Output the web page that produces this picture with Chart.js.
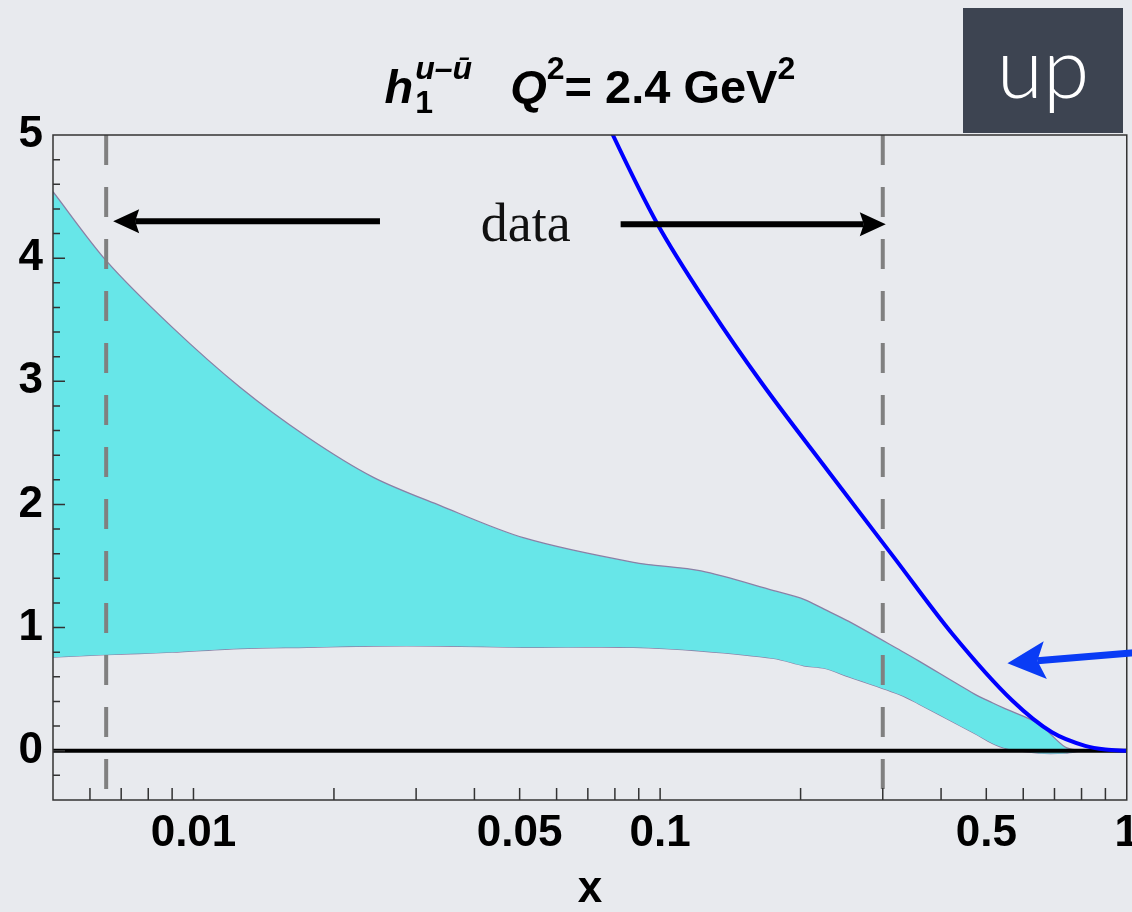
<!DOCTYPE html>
<html>
<head>
<meta charset="utf-8">
<script src="https://cdn.jsdelivr.net/npm/chart.js@4.4.1/dist/chart.umd.min.js"></script>
<style>
  html, body { margin: 0; padding: 0; width: 1132px; height: 912px; overflow: hidden; background: #e8eaee; }
  #wrap { position: relative; width: 1146px; height: 912px; }
</style>
</head>
<body>
<div id="wrap"><canvas id="chart"></canvas></div>
<script>
// ===== DATA =====
const bandX     = [0.005, 0.0065, 0.009, 0.0126, 0.0175, 0.0243, 0.0338, 0.0509, 0.0877, 0.1224, 0.1752, 0.2033, 0.2246, 0.2537, 0.3289, 0.358, 0.472, 0.515, 0.55, 0.647, 0.738, 0.8];
const bandUpper = [4.54, 3.98, 3.44, 2.95, 2.55, 2.22, 1.99, 1.73, 1.53, 1.46, 1.30, 1.23, 1.15, 1.05, 0.81, 0.73, 0.46, 0.39, 0.34, 0.22, 0.03, 0.0];
const bandLower = [0.76, 0.78, 0.80, 0.83, 0.84, 0.85, 0.85, 0.84, 0.84, 0.81, 0.75, 0.69, 0.67, 0.60, 0.45, 0.38, 0.14, 0.06, 0.02, -0.02, -0.02, 0.0];

const modelX = [0.07, 0.0792, 0.0986, 0.1286, 0.1648, 0.2292, 0.3185, 0.4226, 0.5675, 0.6913, 0.8145, 0.9, 1.0];
const modelY = [5.45, 5.0, 4.28, 3.58, 2.99, 2.27, 1.56, 0.95, 0.41, 0.15, 0.04, 0.01, 0.0];

const dataRange = [0.0065, 0.3];

const xTickLabels = [0.01, 0.05, 0.1, 0.5, 1];
const yTickLabels = [0, 1, 2, 3, 4, 5];
const xMinorTicks = [0.006, 0.007, 0.008, 0.009, 0.01, 0.02, 0.03, 0.04, 0.05, 0.06, 0.07, 0.08, 0.09,
                     0.1, 0.2, 0.3, 0.4, 0.5, 0.6, 0.7, 0.8, 0.9];
const yMinorTicks = [-0.2, 0, 0.2, 0.4, 0.6, 0.8, 1, 1.2, 1.4, 1.6, 1.8, 2, 2.2, 2.4, 2.6, 2.8, 3,
                     3.2, 3.4, 3.6, 3.8, 4, 4.2, 4.4, 4.6, 4.8];

const FONT = '"Liberation Sans", Arial, sans-serif';

function pts(xs, ys) {
  return xs.map((x, i) => ({ x: x, y: ys[i] }));
}

// ===== DRAW HELPERS =====
function arrow(c, x1, y1, x2, y2, w, headLen, headHalf, notch, color) {
  const a = Math.atan2(y2 - y1, x2 - x1);
  const cos = Math.cos(a), sin = Math.sin(a);
  const bx = x2 - headLen * cos, by = y2 - headLen * sin;
  c.save();
  c.strokeStyle = color;
  c.fillStyle = color;
  c.lineWidth = w;
  c.beginPath();
  c.moveTo(x1, y1);
  c.lineTo(bx + notch * cos, by + notch * sin);
  c.stroke();
  c.beginPath();
  c.moveTo(x2, y2);
  c.lineTo(bx - headHalf * sin, by + headHalf * cos);
  c.lineTo(bx + notch * cos, by + notch * sin);
  c.lineTo(bx + headHalf * sin, by - headHalf * cos);
  c.closePath();
  c.fill();
  c.restore();
}

function drawTitle(c, cx) {
  const big = 'bold 47px ' + FONT, bigI = 'italic bold 47px ' + FONT;
  const sm = 'bold 32px ' + FONT, smI = 'italic bold 32px ' + FONT;
  const base = 103;
  const parts = [
    { t: 'h', f: bigI, dy: 0 },
    { stack: [{ t: '1', f: sm, dy: 10 }, { t: 'u\u2013\u016B', f: smI, dy: -24 }] },
    { gap: 40 },
    { t: 'Q', f: bigI, dy: 0 },
    { t: '2', f: sm, dy: -24 },
    { t: '= 2.4 GeV', f: big, dy: 0 },
    { t: '2', f: sm, dy: -24 }
  ];
  const widthOf = p => {
    if (p.gap) return p.gap;
    if (p.stack) return Math.max(...p.stack.map(widthOf));
    c.font = p.f;
    return c.measureText(p.t).width;
  };
  const total = parts.reduce((s, p) => s + widthOf(p), 0);
  let x = cx - total / 2;
  c.save();
  c.fillStyle = '#000';
  c.textAlign = 'left';
  c.textBaseline = 'alphabetic';
  parts.forEach(p => {
    if (p.stack) {
      p.stack.forEach(q => { c.font = q.f; c.fillText(q.t, x + 2, base + q.dy); });
    } else if (p.t) {
      c.font = p.f;
      c.fillText(p.t, x, base + p.dy);
    }
    x += widthOf(p);
  });
  c.restore();
}

// ===== PLUGINS =====
const framePlugin = {
  id: 'frame',
  afterDatasetsDraw(chart) {
    const c = chart.ctx, a = chart.chartArea;
    const xs = chart.scales.x, ys = chart.scales.y;
    c.save();
    c.strokeStyle = '#333';
    c.lineWidth = 1.5;
    c.strokeRect(a.left, a.top, a.right - a.left, a.bottom - a.top);
    c.beginPath();
    xMinorTicks.forEach(v => {
      const px = xs.getPixelForValue(v);
      c.moveTo(px, a.bottom);
      c.lineTo(px, a.bottom - 12);
    });
    yMinorTicks.forEach(v => {
      const py = ys.getPixelForValue(v);
      const len = Number.isInteger(v) ? 12 : 7;
      c.moveTo(a.left, py);
      c.lineTo(a.left + len, py);
    });
    c.stroke();
    c.restore();
  }
};

const notesPlugin = {
  id: 'notes',
  afterDraw(chart) {
    const c = chart.ctx, a = chart.chartArea;
    const xs = chart.scales.x, ys = chart.scales.y;

    drawTitle(c, (a.left + a.right) / 2);

    // "up" box
    c.save();
    c.fillStyle = '#3d4451';
    c.fillRect(963, 8, 160, 125);
    c.fillStyle = '#ffffff';
    c.font = '300 84px Lato, "Open Sans", sans-serif';
    c.textAlign = 'center';
    c.textBaseline = 'alphabetic';
    c.fillText('up', 1043, 98);
    c.restore();

    // data range arrows
    const yA = ys.getPixelForValue(4.3);
    arrow(c, xs.getPixelForValue(0.0251), yA, xs.getPixelForValue(dataRange[0]) + 7, yA, 6, 26, 12, 4, '#000');
    arrow(c, xs.getPixelForValue(0.0823), yA + 3, xs.getPixelForValue(dataRange[1]) + 3, yA + 3, 6, 26, 12, 4, '#000');

    c.save();
    c.fillStyle = '#111';
    c.font = '54px "Liberation Serif", "DejaVu Serif", serif';
    c.textAlign = 'center';
    c.textBaseline = 'alphabetic';
    c.fillText('data', xs.getPixelForValue(0.0515), ys.getPixelForValue(4.14));
    c.restore();

    // blue pointer
    arrow(c, 1140, ys.getPixelForValue(0.8), xs.getPixelForValue(0.555), ys.getPixelForValue(0.71), 7, 38, 19, 8, '#0a3cf5');
  }
};

// ===== CHART =====
const ctx = document.getElementById('chart').getContext('2d');

new Chart(ctx, {
  type: 'line',
  data: {
    datasets: [
      { data: pts(bandX, bandUpper), borderColor: '#8a80a6', borderWidth: 1.3, backgroundColor: '#67e6e8',
        fill: '+1', pointRadius: 0, tension: 0.3, order: 6 },
      { data: pts(bandX, bandLower), borderColor: '#8a80a6', borderWidth: 1.3, fill: false,
        pointRadius: 0, tension: 0.3, order: 6 },
      { data: [{ x: dataRange[0], y: 5 }, { x: dataRange[0], y: -0.4 }], borderColor: '#808080',
        borderWidth: 4, borderDash: [30, 22], pointRadius: 0, fill: false, order: 4 },
      { data: [{ x: dataRange[1], y: 5 }, { x: dataRange[1], y: -0.4 }], borderColor: '#808080',
        borderWidth: 4, borderDash: [30, 22], pointRadius: 0, fill: false, order: 4 },
      { data: [{ x: 0.005, y: 0 }, { x: 1, y: 0 }], borderColor: '#000', borderWidth: 4,
        pointRadius: 0, fill: false, order: 2 },
      { data: pts(modelX, modelY), borderColor: '#0000ff', borderWidth: 4, pointRadius: 0,
        fill: false, cubicInterpolationMode: 'monotone', order: 1 }
    ]
  },
  options: {
    responsive: true,
    maintainAspectRatio: false,
    animation: false,
    layout: { padding: { top: 135, left: 0, right: 0, bottom: 0 } },
    plugins: { legend: { display: false }, tooltip: { enabled: false } },
    scales: {
      x: {
        type: 'logarithmic',
        min: 0.005,
        max: 1,
        grid: { display: false, drawTicks: false },
        border: { display: false },
        afterBuildTicks: s => { s.ticks = xTickLabels.map(v => ({ value: v })); },
        afterFit: s => { s.height = 112; },
        ticks: {
          autoSkip: false, maxRotation: 0, padding: 7, color: '#000',
          font: { family: FONT, weight: 'bold', size: 44 },
          callback: v => String(v)
        },
        title: {
          display: true, text: 'x', color: '#000', padding: { top: 0, bottom: 0 },
          font: { family: FONT, weight: 'bold', size: 44, lineHeight: 1.0 }
        }
      },
      y: {
        min: -0.4,
        max: 5,
        grid: { display: false, drawTicks: false },
        border: { display: false },
        afterBuildTicks: s => { s.ticks = yTickLabels.map(v => ({ value: v })); },
        afterFit: s => { s.width = 53; },
        ticks: {
          padding: 10, color: '#000',
          font: { family: FONT, weight: 'bold', size: 44 }
        }
      }
    }
  },
  plugins: [framePlugin, notesPlugin]
});
</script>
</body>
</html>
